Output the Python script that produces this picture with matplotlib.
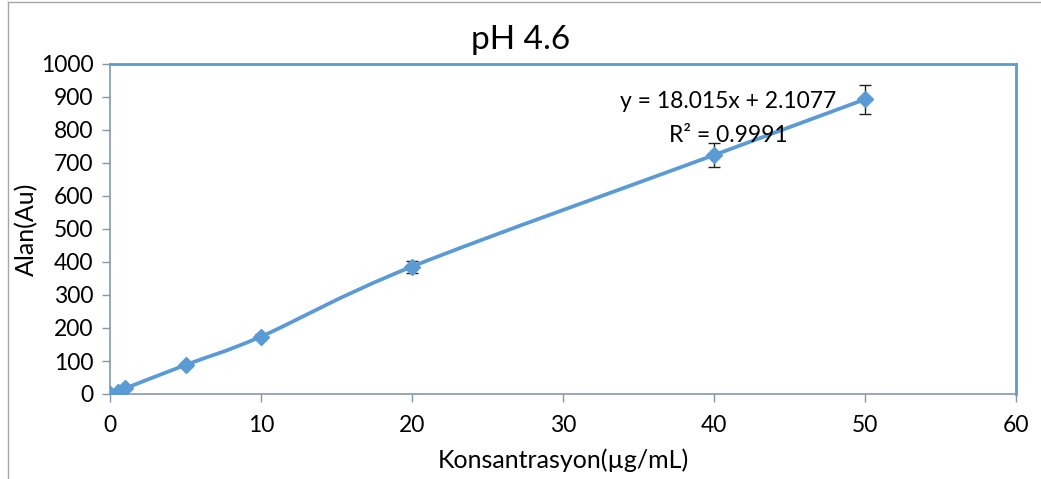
import numpy as np
import matplotlib
matplotlib.use('Agg')
import matplotlib.pyplot as plt
from matplotlib.path import Path
from matplotlib.patches import PathPatch
from matplotlib.lines import Line2D

# data
konsantrasyon = [0, 0.5, 1, 5, 10, 20, 40, 50]
alan = [0, 7, 17, 88, 174, 386, 724, 893]
hata = [2, 3, 4, 6, 8, 18, 36, 44]

x_ticks = [0, 10, 20, 30, 40, 50, 60]
y_ticks = [0, 100, 200, 300, 400, 500, 600, 700, 800, 900, 1000]

BLUE = '#5B9BD5'
AXIS = '#8497B0'
plt.rcParams['font.family'] = ['Lato', 'DejaVu Sans']


def smooth_path(xs, ys):
	# excel style smoothed line: catmull-rom as cubic bezier
	pts = np.column_stack([xs, ys]).astype(float)
	n = len(pts)
	verts = [pts[0]]
	codes = [Path.MOVETO]
	for i in range(n - 1):
		p0 = pts[i - 1] if i > 0 else pts[i]
		p1 = pts[i]
		p2 = pts[i + 1]
		p3 = pts[i + 2] if i + 2 < n else pts[i + 1]
		c1 = p1 + (p2 - p0) / 6.
		c2 = p2 - (p3 - p1) / 6.
		verts += [c1, c2, p2]
		codes += [Path.CURVE4] * 3
	return Path(verts, codes)


fig = plt.figure(figsize=(10.41, 4.79), dpi=100)
ax = fig.add_axes([110/1041, 1 - 394/479, (1016 - 110)/1041, (394 - 64)/479])

ax.add_patch(PathPatch(smooth_path(konsantrasyon, alan), fill=False, edgecolor=BLUE, lw=2.7, zorder=3))
ax.errorbar(konsantrasyon, alan, yerr=hata, fmt='none', ecolor='#222222', elinewidth=1, capsize=4.5, capthick=1, zorder=2)
ax.plot(konsantrasyon, alan, linestyle='none', marker='D', markersize=8.5, color=BLUE, zorder=4)

ax.set_xlim(0, 60)
ax.set_ylim(0, 1000)
ax.set_xticks(x_ticks)
ax.set_yticks(y_ticks)
ax.tick_params(direction='out', length=6, width=1, color=AXIS, labelsize=16.5, pad=6)
ax.tick_params(axis='x', pad=9)

for s in ['left', 'bottom']:
	ax.spines[s].set_color(AXIS)
	ax.spines[s].set_linewidth(1.2)
for s in ['top', 'right']:
	ax.spines[s].set_color(BLUE)
	ax.spines[s].set_linewidth(2)

ax.set_xlabel('Konsantrasyon(µg/mL)', fontsize=18, labelpad=9)
ax.set_ylabel('Alan(Au)', fontsize=18, labelpad=2)
fig.text(521/1041, 1 - 40/479, 'pH 4.6', ha='center', va='center', fontsize=24)

ax.text(728/1041, 1 - 102/479, 'y = 18.015x + 2.1077', transform=fig.transFigure, ha='center', va='center', fontsize=16.5)
ax.text(728/1041, 1 - 136/479, 'R² = 0.9991', transform=fig.transFigure, ha='center', va='center', fontsize=16.5)

# outer chart border
fig.add_artist(Line2D([8/1041, 8/1041], [0, 1 - 2/479], color='#A6A6A6', lw=1))
fig.add_artist(Line2D([8/1041, 1], [1 - 2/479, 1 - 2/479], color='#A6A6A6', lw=1))

fig.savefig('out.png', dpi=100)
